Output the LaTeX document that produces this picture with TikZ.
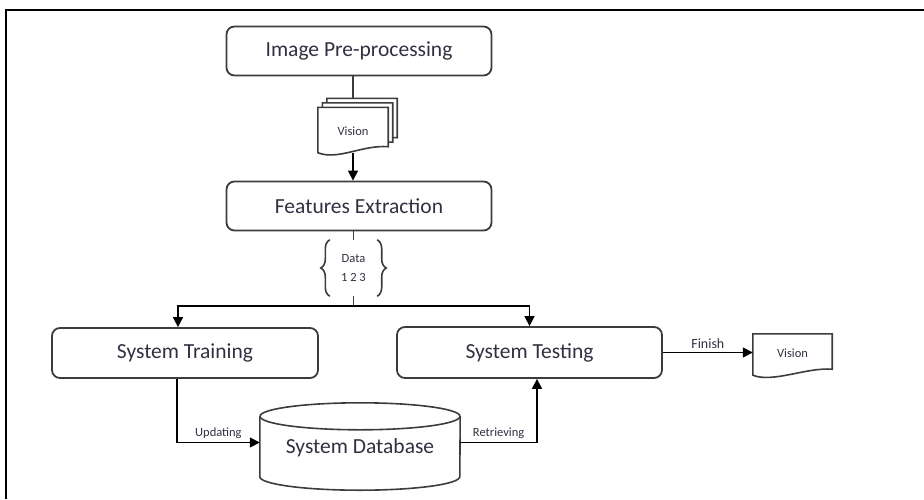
\documentclass[tikz,border=0pt]{standalone}
\usepackage{fontspec}
\setmainfont{Carlito}
\usetikzlibrary{arrows.meta,decorations.pathreplacing,backgrounds}
\definecolor{inkgray}{RGB}{48,48,66}
\definecolor{linegray}{RGB}{60,60,60}
\tikzset{
  stage/.style={draw=linegray, line width=1.8pt, rounded corners=8pt, minimum width=265pt, minimum height=49pt, inner sep=0pt, font=\fontsize{21.5}{25}\selectfont, text=inkgray},
  docbox/.style={minimum width=70pt, minimum height=47pt, inner sep=0pt, font=\fontsize{12.5}{15}\selectfont, text=inkgray},
  docline/.style={draw=linegray, line width=1.6pt, fill=white},
  link/.style={draw=linegray, line width=1.6pt},
  arr/.style={draw=black, line width=1.6pt, -{Triangle[length=10pt,width=10pt]}},
  small/.style={font=\fontsize{12.5}{15}\selectfont, text=inkgray},
}
% outline of a document symbol round a node
\newcommand{\docpath}[1]{(#1.north west) -- (#1.north east) -- ([yshift=8pt]#1.south east) .. controls ([xshift=-26pt,yshift=10pt]#1.south east) and ([xshift=20pt,yshift=-6pt]#1.south west) .. ([yshift=2pt]#1.south west) -- cycle}

\begin{document}
\begin{tikzpicture}[x=1pt, y=-1pt]
    \useasboundingbox (0,0) rectangle (924,499);
    % page frame
    \draw[line width=2.4pt] (6,499) -- (6,10) -- (924,10);

    % Stages
    \node[stage] (pre) at (359,51) {Image Pre-processing};
    \node[stage] (feat) at (359,206) {Features Extraction};
    \node[stage, minimum width=266pt, minimum height=50pt] (train) at (185,353) {System Training};
    \node[stage, minimum height=51pt] (test) at (529.5,352.5) {System Testing};

    % Stack of vision documents
    \foreach \k in {2,1} {
        \node[docbox] (vis\k) at (353+4.5*\k, 131-4.5*\k) {};
    }
    \node[docbox] (vis) at (353,131) {Vision};
    \begin{scope}[on background layer]
        \foreach \k in {2,1} {
            \draw[docline] \docpath{vis\k};
        }
        \draw[docline] \docpath{vis};
    \end{scope}

    % Data braces
    \node[small, align=center, minimum width=47pt, minimum height=56pt, inner sep=0pt] (data) at (353.5,268) {\raisebox{-5pt}{Data}\\[4pt]\raisebox{-5pt}{1 2 3}};
    \draw[link, decorate, decoration={brace, amplitude=9pt}] (data.south west) -- (data.north west);
    \draw[link, decorate, decoration={brace, amplitude=9pt}] (data.north east) -- (data.south east);
    \coordinate (split) at (353.5,306);

    % Database
    \node[font=\fontsize{21.5}{25}\selectfont, text=inkgray, minimum width=200pt, minimum height=87pt, inner sep=0pt, text depth=-6pt] (db) at (360,446.5) {System Database};
    \draw[link] ([yshift=-13.5pt]db.north west) -- ([yshift=13.5pt]db.south west)
        arc[start angle=180, end angle=360, x radius=100pt, y radius=13.5pt]
        -- ([yshift=-13.5pt]db.north east);
    \draw[link] ([yshift=-13.5pt]db.north) ellipse [x radius=100pt, y radius=13.5pt];

    % Output document
    \node[docbox, minimum width=79pt, minimum height=43pt, text depth=4pt] (out) at (792.5,355.5) {Vision};
    \begin{scope}[on background layer]
        \draw[docline] \docpath{out};
    \end{scope}

    % Connectors
    \draw[link] (pre.south -| vis.north) -- (vis.north |- vis2.north);
    \draw[arr] ([yshift=2pt]vis.south) -- (feat.north -| vis.south);
    \draw[link] (feat.south -| data.north) -- (data.north);
    \draw[link] (data.south) -- (split);
    \draw[arr] (split) -| ([xshift=-7pt]train.north);
    \draw[arr] (split) -| (test.north);
    \draw[arr] ([xshift=-8pt]train.south) |- node[small, above, pos=0.75] (upd) {Updating} ([yshift=4pt]db.west);
    \draw[arr] ([yshift=4pt]db.east) -| node[small, above, pos=0.25] (ret) {Retrieving} ([xshift=7.5pt]test.south);
    \draw[arr] (test.east) -- node[small, above, font=\fontsize{14}{16}\selectfont] (fin) {Finish} (test.east -| out.west);
\end{tikzpicture}
\end{document}
